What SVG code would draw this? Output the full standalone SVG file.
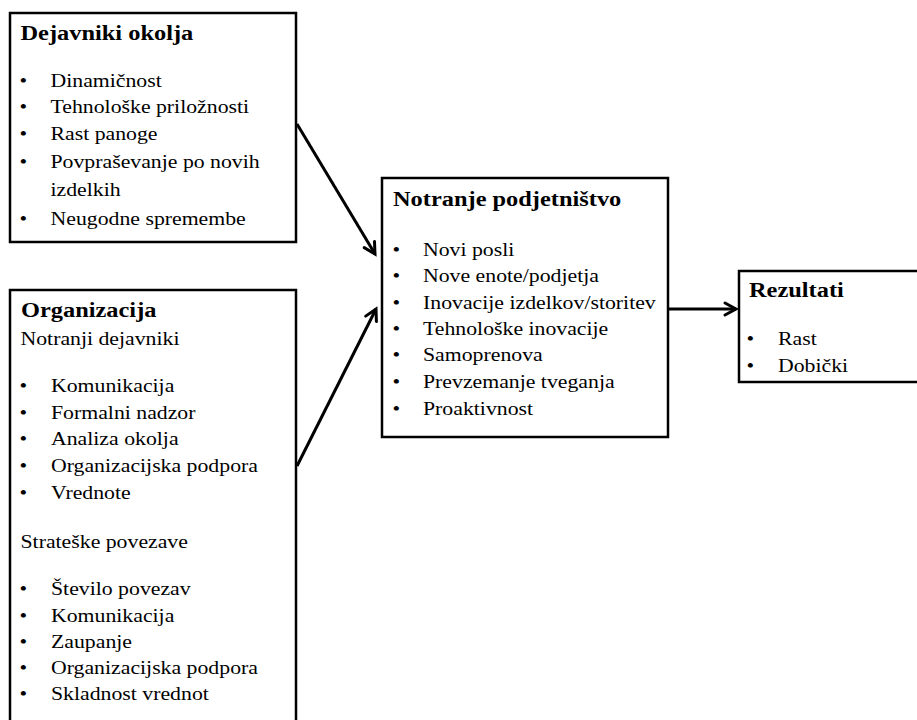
<svg xmlns="http://www.w3.org/2000/svg" width="917" height="720" viewBox="0 0 917 720">
  <defs>
    <marker id="chevron" markerUnits="userSpaceOnUse" markerWidth="20" markerHeight="20" viewBox="-16 -10 20 20" refX="0" refY="0" orient="auto">
      <path d="M-11,-6 L0,0 L-11,6" fill="none" stroke="#000" stroke-width="3" stroke-linecap="round" stroke-linejoin="miter"/>
    </marker>
    <style>
      .box { fill: #fff; stroke: #000; stroke-width: 2.5; }
      .title { font-family: "Liberation Serif", "Times New Roman", serif; font-size: 20px; font-weight: bold; fill: #000; }
      .txt { font-family: "Liberation Serif", "Times New Roman", serif; font-size: 18px; fill: #000; }
      .link { fill: none; stroke: #000; stroke-width: 3; marker-end: url(#chevron); }
    </style>
  </defs>
  <rect width="917" height="720" fill="#fff"/>

  <!-- Environmental factors -->
  <g id="dejavniki-okolja">
    <rect class="box" x="10" y="13" width="286" height="229"/>
    <text class="title" transform="matrix(1.22 0 0 1 20.5 40)">Dejavniki okolja</text>
    <text class="txt" transform="matrix(1.21 0 0 1 19.5 87)">•</text>
    <text class="txt" transform="matrix(1.21 0 0 1 50.5 87)">Dinamičnost</text>
    <text class="txt" transform="matrix(1.21 0 0 1 19.5 113)">•</text>
    <text class="txt" transform="matrix(1.21 0 0 1 50.5 113)">Tehnološke priložnosti</text>
    <text class="txt" transform="matrix(1.21 0 0 1 19.5 140)">•</text>
    <text class="txt" transform="matrix(1.21 0 0 1 50.5 140)">Rast panoge</text>
    <text class="txt" transform="matrix(1.21 0 0 1 19.5 168)">•</text>
    <text class="txt" transform="matrix(1.21 0 0 1 50.5 168)">Povpraševanje po novih</text>
    <text class="txt" transform="matrix(1.21 0 0 1 50.5 196)">izdelkih</text>
    <text class="txt" transform="matrix(1.21 0 0 1 19.5 225)">•</text>
    <text class="txt" transform="matrix(1.21 0 0 1 50.5 225)">Neugodne spremembe</text>
  </g>

  <!-- Organisation -->
  <g id="organizacija">
    <rect class="box" x="10" y="290" width="286" height="450"/>
    <text class="title" transform="matrix(1.22 0 0 1 21 317)">Organizacija</text>
    <text class="txt" transform="matrix(1.21 0 0 1 20.5 345)">Notranji dejavniki</text>
    <text class="txt" transform="matrix(1.21 0 0 1 19.5 392)">•</text>
    <text class="txt" transform="matrix(1.21 0 0 1 51 392)">Komunikacija</text>
    <text class="txt" transform="matrix(1.21 0 0 1 19.5 419)">•</text>
    <text class="txt" transform="matrix(1.21 0 0 1 51 419)">Formalni nadzor</text>
    <text class="txt" transform="matrix(1.21 0 0 1 19.5 445)">•</text>
    <text class="txt" transform="matrix(1.21 0 0 1 51 445)">Analiza okolja</text>
    <text class="txt" transform="matrix(1.21 0 0 1 19.5 472)">•</text>
    <text class="txt" transform="matrix(1.21 0 0 1 51 472)">Organizacijska podpora</text>
    <text class="txt" transform="matrix(1.21 0 0 1 19.5 499)">•</text>
    <text class="txt" transform="matrix(1.21 0 0 1 51 499)">Vrednote</text>
    <text class="txt" transform="matrix(1.21 0 0 1 20.5 548)">Strateške povezave</text>
    <text class="txt" transform="matrix(1.21 0 0 1 19.5 595)">•</text>
    <text class="txt" transform="matrix(1.21 0 0 1 51 595)">Število povezav</text>
    <text class="txt" transform="matrix(1.21 0 0 1 19.5 622)">•</text>
    <text class="txt" transform="matrix(1.21 0 0 1 51 622)">Komunikacija</text>
    <text class="txt" transform="matrix(1.21 0 0 1 19.5 648)">•</text>
    <text class="txt" transform="matrix(1.21 0 0 1 51 648)">Zaupanje</text>
    <text class="txt" transform="matrix(1.21 0 0 1 19.5 674)">•</text>
    <text class="txt" transform="matrix(1.21 0 0 1 51 674)">Organizacijska podpora</text>
    <text class="txt" transform="matrix(1.21 0 0 1 19.5 700)">•</text>
    <text class="txt" transform="matrix(1.21 0 0 1 51 700)">Skladnost vrednot</text>
  </g>

  <!-- Corporate entrepreneurship -->
  <g id="notranje-podjetnistvo">
    <rect class="box" x="382" y="178" width="286" height="259"/>
    <text class="title" transform="matrix(1.22 0 0 1 393 206)">Notranje podjetništvo</text>
    <text class="txt" transform="matrix(1.21 0 0 1 392.5 256)">•</text>
    <text class="txt" transform="matrix(1.21 0 0 1 423 256)">Novi posli</text>
    <text class="txt" transform="matrix(1.21 0 0 1 392.5 282)">•</text>
    <text class="txt" transform="matrix(1.21 0 0 1 423 282)">Nove enote/podjetja</text>
    <text class="txt" transform="matrix(1.21 0 0 1 392.5 309)">•</text>
    <text class="txt" transform="matrix(1.21 0 0 1 423 309)">Inovacije izdelkov/storitev</text>
    <text class="txt" transform="matrix(1.21 0 0 1 392.5 335)">•</text>
    <text class="txt" transform="matrix(1.21 0 0 1 423 335)">Tehnološke inovacije</text>
    <text class="txt" transform="matrix(1.21 0 0 1 392.5 361)">•</text>
    <text class="txt" transform="matrix(1.21 0 0 1 423 361)">Samoprenova</text>
    <text class="txt" transform="matrix(1.21 0 0 1 392.5 388)">•</text>
    <text class="txt" transform="matrix(1.21 0 0 1 423 388)">Prevzemanje tveganja</text>
    <text class="txt" transform="matrix(1.21 0 0 1 392.5 415)">•</text>
    <text class="txt" transform="matrix(1.21 0 0 1 423 415)">Proaktivnost</text>
  </g>

  <!-- Results -->
  <g id="rezultati">
    <rect class="box" x="739" y="271" width="200" height="111"/>
    <text class="title" transform="matrix(1.22 0 0 1 749 297)">Rezultati</text>
    <text class="txt" transform="matrix(1.21 0 0 1 746.5 345)">•</text>
    <text class="txt" transform="matrix(1.21 0 0 1 778 345)">Rast</text>
    <text class="txt" transform="matrix(1.21 0 0 1 746.5 372)">•</text>
    <text class="txt" transform="matrix(1.21 0 0 1 778 372)">Dobički</text>
  </g>

  <!-- Connectors -->
  <g id="connectors">
    <line class="link" x1="297" y1="124" x2="375" y2="254"/>
    <line class="link" x1="297" y1="466" x2="376" y2="309"/>
    <line class="link" x1="668" y1="309" x2="736" y2="309"/>
  </g>
</svg>
